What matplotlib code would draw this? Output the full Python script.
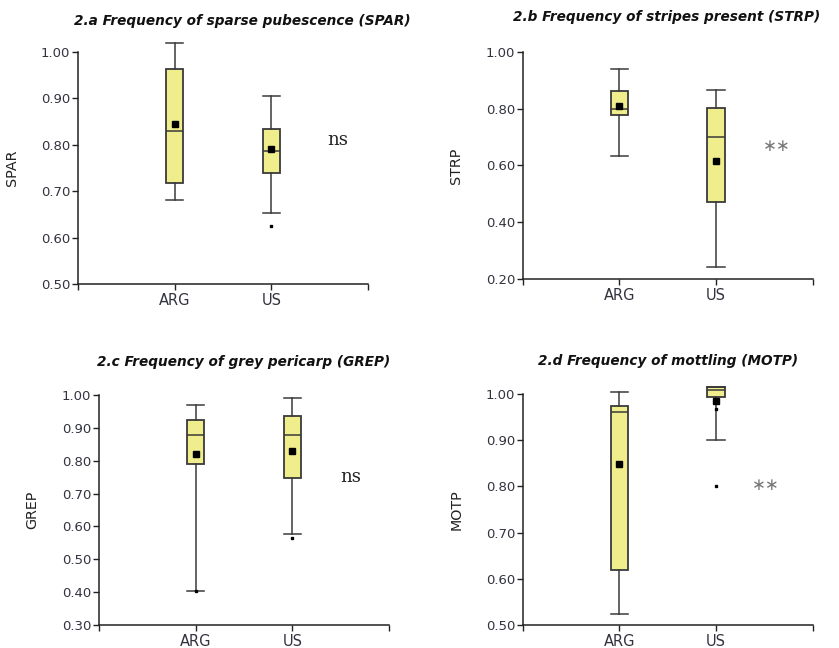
import numpy as np
import matplotlib
matplotlib.use("Agg")
import matplotlib.pyplot as plt

groups = ["ARG", "US"]

# 2.a SPAR
spar_whislo = [0.681, 0.652]
spar_q1 = [0.717, 0.740]
spar_med = [0.829, 0.787]
spar_q3 = [0.964, 0.835]
spar_whishi = [1.020, 0.905]
spar_mean = [0.844, 0.790]
spar_fliers = [[], [0.625]]

# 2.b STRP
strp_whislo = [0.632, 0.241]
strp_q1 = [0.776, 0.472]
strp_med = [0.799, 0.701]
strp_q3 = [0.862, 0.801]
strp_whishi = [0.939, 0.866]
strp_mean = [0.809, 0.617]
strp_fliers = [[], []]

# 2.c GREP
grep_whislo = [0.403, 0.576]
grep_q1 = [0.790, 0.746]
grep_med = [0.877, 0.877]
grep_q3 = [0.925, 0.936]
grep_whishi = [0.971, 0.990]
grep_mean = [0.819, 0.830]
grep_fliers = [[0.403], [0.566]]

# 2.d MOTP
motp_whislo = [0.524, 0.900]
motp_q1 = [0.620, 0.994]
motp_med = [0.960, 1.009]
motp_q3 = [0.973, 1.016]
motp_whishi = [1.004, 1.016]
motp_mean = [0.848, 0.985]
motp_fliers = [[], [0.967, 0.801]]

box_color = "#F0EE8C"
edge_color = "#3a3a3a"
tick_color = "#333340"


def make_stats(whislo, q1, med, q3, whishi, mean, fliers):
    stats = []
    for i in range(len(groups)):
        stats.append(dict(label=groups[i], whislo=whislo[i], q1=q1[i], med=med[i],
                          q3=q3[i], whishi=whishi[i], mean=mean[i],
                          fliers=np.array(fliers[i])))
    return stats


panels = [
    dict(rect=[0.093, 0.5617, 0.3456, 0.3581],
         title="2.a Frequency of sparse pubescence (SPAR)", ylabel="SPAR",
         ylim=(0.5, 1.0), yticks=np.arange(0.5, 1.001, 0.1),
         stats=make_stats(spar_whislo, spar_q1, spar_med, spar_q3, spar_whishi, spar_mean, spar_fliers),
         sig="ns", sig_xy=(2.69, 0.81), title_xy=(242, 21)),
    dict(rect=[0.623, 0.5694, 0.3456, 0.3506],
         title="2.b Frequency of stripes present (STRP)", ylabel="STRP",
         ylim=(0.2, 1.0), yticks=np.arange(0.2, 1.001, 0.2),
         stats=make_stats(strp_whislo, strp_q1, strp_med, strp_q3, strp_whishi, strp_mean, strp_fliers),
         sig="**", sig_xy=(2.63, 0.67), title_xy=(667, 17)),
    dict(rect=[0.118, 0.0355, 0.3456, 0.3549],
         title="2.c Frequency of grey pericarp (GREP)", ylabel="GREP",
         ylim=(0.3, 1.0), yticks=np.arange(0.3, 1.001, 0.1),
         stats=make_stats(grep_whislo, grep_q1, grep_med, grep_q3, grep_whishi, grep_mean, grep_fliers),
         sig="ns", sig_xy=(2.6, 0.751), title_xy=(244, 362)),
    dict(rect=[0.623, 0.0355, 0.3456, 0.3565],
         title="2.d Frequency of mottling (MOTP)", ylabel="MOTP",
         ylim=(0.5, 1.0), yticks=np.arange(0.5, 1.001, 0.1),
         stats=make_stats(motp_whislo, motp_q1, motp_med, motp_q3, motp_whishi, motp_mean, motp_fliers),
         sig="**", sig_xy=(2.52, 0.804), title_xy=(668, 361)),
]

fig = plt.figure(figsize=(8.39, 6.48), dpi=100)
W, H = 839.0, 648.0

for p in panels:
    ax = fig.add_axes(p["rect"])
    art = ax.bxp(p["stats"], positions=[1, 2], widths=0.18, patch_artist=True,
                 showmeans=True, manage_ticks=False,
                 boxprops=dict(facecolor=box_color, edgecolor=edge_color, linewidth=1.3),
                 medianprops=dict(color=edge_color, linewidth=1.1),
                 whiskerprops=dict(color=edge_color, linewidth=1.1),
                 capprops=dict(color=edge_color, linewidth=1.1),
                 capwidths=0.18,
                 meanprops=dict(marker="s", markerfacecolor="black", markeredgecolor="black",
                                markersize=4),
                 flierprops=dict(marker="s", markerfacecolor="black", markeredgecolor="black",
                                 markersize=1.6))
    for key in art:
        for a in art[key]:
            a.set_clip_on(False)

    ax.set_xlim(0, 3)
    ax.set_ylim(*p["ylim"])
    ax.set_yticks(p["yticks"])
    ax.set_yticklabels([f"{v:.2f}" for v in p["yticks"]])
    ax.set_xticks([0, 1, 2, 3])
    ax.set_xticklabels(["", "ARG", "US", ""])
    ax.spines["top"].set_visible(False)
    ax.spines["right"].set_visible(False)
    for s in ["left", "bottom"]:
        ax.spines[s].set_color("#222222")
        ax.spines[s].set_linewidth(1.1)
    ax.tick_params(axis="both", direction="out", length=4, width=1.0, color="#222222",
                   labelsize=9.5, labelcolor=tick_color, pad=1.5)
    ax.tick_params(axis="x", pad=2.5, labelsize=10.5)
    ax.set_ylabel(p["ylabel"], fontsize=10.3, color="#222222")
    ax.yaxis.set_label_coords(-0.205, 0.5)

    tx, ty = p["title_xy"]
    fig.text(tx / W, 1 - ty / H, p["title"],
             ha="center", va="center", fontsize=9.8, fontweight="bold", fontstyle="italic",
             color="#111111")

    sx, sy = p["sig_xy"]
    if p["sig"] == "ns":
        ax.text(sx, sy, "ns", ha="center", va="center", fontsize=13,
                family="DejaVu Serif", color="#222222")
    else:
        ax.text(sx, sy, "\u2217\u2217", ha="center", va="center", fontsize=12,
                color="#777777")

fig.savefig("out.png", dpi=100)
